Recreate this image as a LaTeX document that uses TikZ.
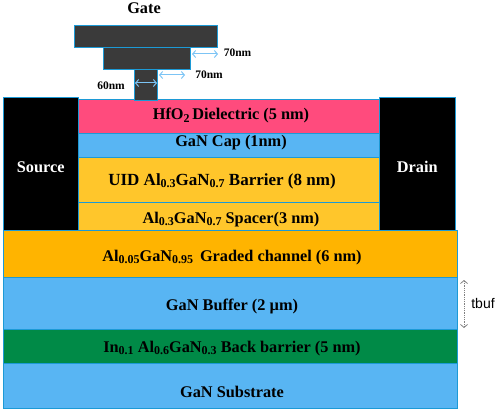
\documentclass[tikz,border=0pt]{standalone}
\usepackage{fontspec}
\setmainfont{Liberation Serif}
\usetikzlibrary{positioning,arrows.meta}
\definecolor{edgeblue}{HTML}{1C9AD6}
\definecolor{gatedark}{HTML}{3A3A3A}
\definecolor{dielpink}{HTML}{FF4B7D}
\definecolor{capblue}{HTML}{58B5F3}
\definecolor{barrieryellow}{HTML}{FFC62B}
\definecolor{channelorange}{HTML}{FFB400}
\definecolor{backgreen}{HTML}{008A47}
\definecolor{dimblue}{HTML}{7CC4F5}
\newcommand{\lowtext}[1]{\raisebox{-0.3ex}{\fontsize{12}{12}\selectfont #1}}

\begin{document}
\begin{tikzpicture}[
  x=1pt, y=-1pt,
  font=\fontsize{16.3}{18}\selectfont\bfseries,
  node distance=0pt,
  layer/.style={draw=edgeblue, line width=1pt, outer sep=0pt, inner sep=0pt, align=center},
  midlayer/.style={layer, minimum width=301pt, execute at begin node=\hspace*{4pt}},
  widelayer/.style={layer, minimum width=454pt, execute at begin node=\hspace*{4pt}},
  contact/.style={layer, fill=black, text=white, minimum width=75.5pt, minimum height=133pt},
  gatebar/.style={layer, fill=gatedark},
  lowered/.style={text height=#1, text depth=0pt},
  dimarrow/.style={{Straight Barb[length=3pt,width=7pt]}-{Straight Barb[length=3pt,width=7pt]}, draw=dimblue, line width=1pt},
  dimlabel/.style={font=\fontsize{11.5}{13}\selectfont\bfseries, inner sep=0pt}
]
\useasboundingbox (0,0) rectangle (498,412);

% contacts and the stack between them
\node[contact, lowered=17.8pt, anchor=north west] (source) at (3,97) {Source};
\node[contact, lowered=17.8pt, anchor=north west] (drain) at (379.5,97) {Drain};
\node[midlayer, fill=dielpink, minimum height=34pt, lowered=7.8pt, anchor=north west] (diel) at (78.5,99) {HfO\lowtext{2}\,Dielectric (5 nm)};
\node[midlayer, fill=capblue, minimum height=24pt, below=of diel, lowered=3.8pt] (cap) {GaN Cap (1nm)};
\node[midlayer, fill=barrieryellow, minimum height=45pt, below=of cap, lowered=11.8pt, font=\fontsize{17}{19}\selectfont\bfseries] (barrier) {UID Al\lowtext{0.3}GaN\lowtext{0.7} Barrier (8 nm)\hspace*{18pt}};
\node[midlayer, fill=barrieryellow, minimum height=28pt, below=of barrier, lowered=14.8pt] (spacer) {Al\lowtext{0.3}GaN\lowtext{0.7} Spacer(3 nm)};

% full width layers
\node[widelayer, fill=channelorange, minimum height=47pt, anchor=north west, lowered=15.8pt] (channel) at (source.south west) {Al\lowtext{0.05}GaN\lowtext{0.95}\, Graded channel (6 nm)};
\node[widelayer, fill=capblue, minimum height=52pt, below=of channel, lowered=14.8pt] (buffer) {GaN Buffer (2 µm)};
\node[widelayer, fill=backgreen, minimum height=34pt, below=of buffer, lowered=12.8pt] (back) {In\lowtext{0.1} Al\lowtext{0.6}GaN\lowtext{0.3} Back barrier (5 nm)};
\node[widelayer, fill=capblue, minimum height=45pt, below=of back, lowered=23.8pt] (substrate) {GaN Substrate};

% gate
\node[gatebar, minimum width=23pt, minimum height=30pt, anchor=north] (stem) at (145.5,70) {};
\node[gatebar, minimum width=87pt, minimum height=22pt, anchor=north] (gatemid) at (146.5,48) {};
\node[gatebar, minimum width=143pt, minimum height=22pt, anchor=north] (gatetop) at (145.5,26) {};
\node[inner sep=0pt] (gatelabel) at (144,8) {Gate};

% dimensions
\coordinate (topa) at (192,54);
\coordinate (topb) at (218,54);
\coordinate (mida) at (159,75);
\coordinate (midb) at (185,75);
\coordinate (stema) at (135,83);
\coordinate (stemb) at (157,83);
\draw[dimarrow] (topa) -- (topb);
\draw[dimarrow] (mida) -- (midb);
\draw[dimarrow] (stema) -- (stemb);
\node[dimlabel] (toplabel) at (237.5,53) {70nm};
\node[dimlabel] (midlabel) at (209,75) {70nm};
\node[dimlabel] (stemlabel) at (111,86) {60nm};

% buffer thickness
\coordinate (tbufa) at (464,280);
\coordinate (tbufb) at (464,328);
\draw[{Straight Barb[length=3pt,width=7pt]}-{Straight Barb[length=3pt,width=7pt]}, densely dotted, draw=gray, line width=0.8pt] (tbufa) -- (tbufb);
\node[font=\fontsize{14}{16}\selectfont\fontspec{Liberation Sans}, inner sep=0pt] (tbuf) at (483,303) {tbuf};
\end{tikzpicture}
\end{document}
